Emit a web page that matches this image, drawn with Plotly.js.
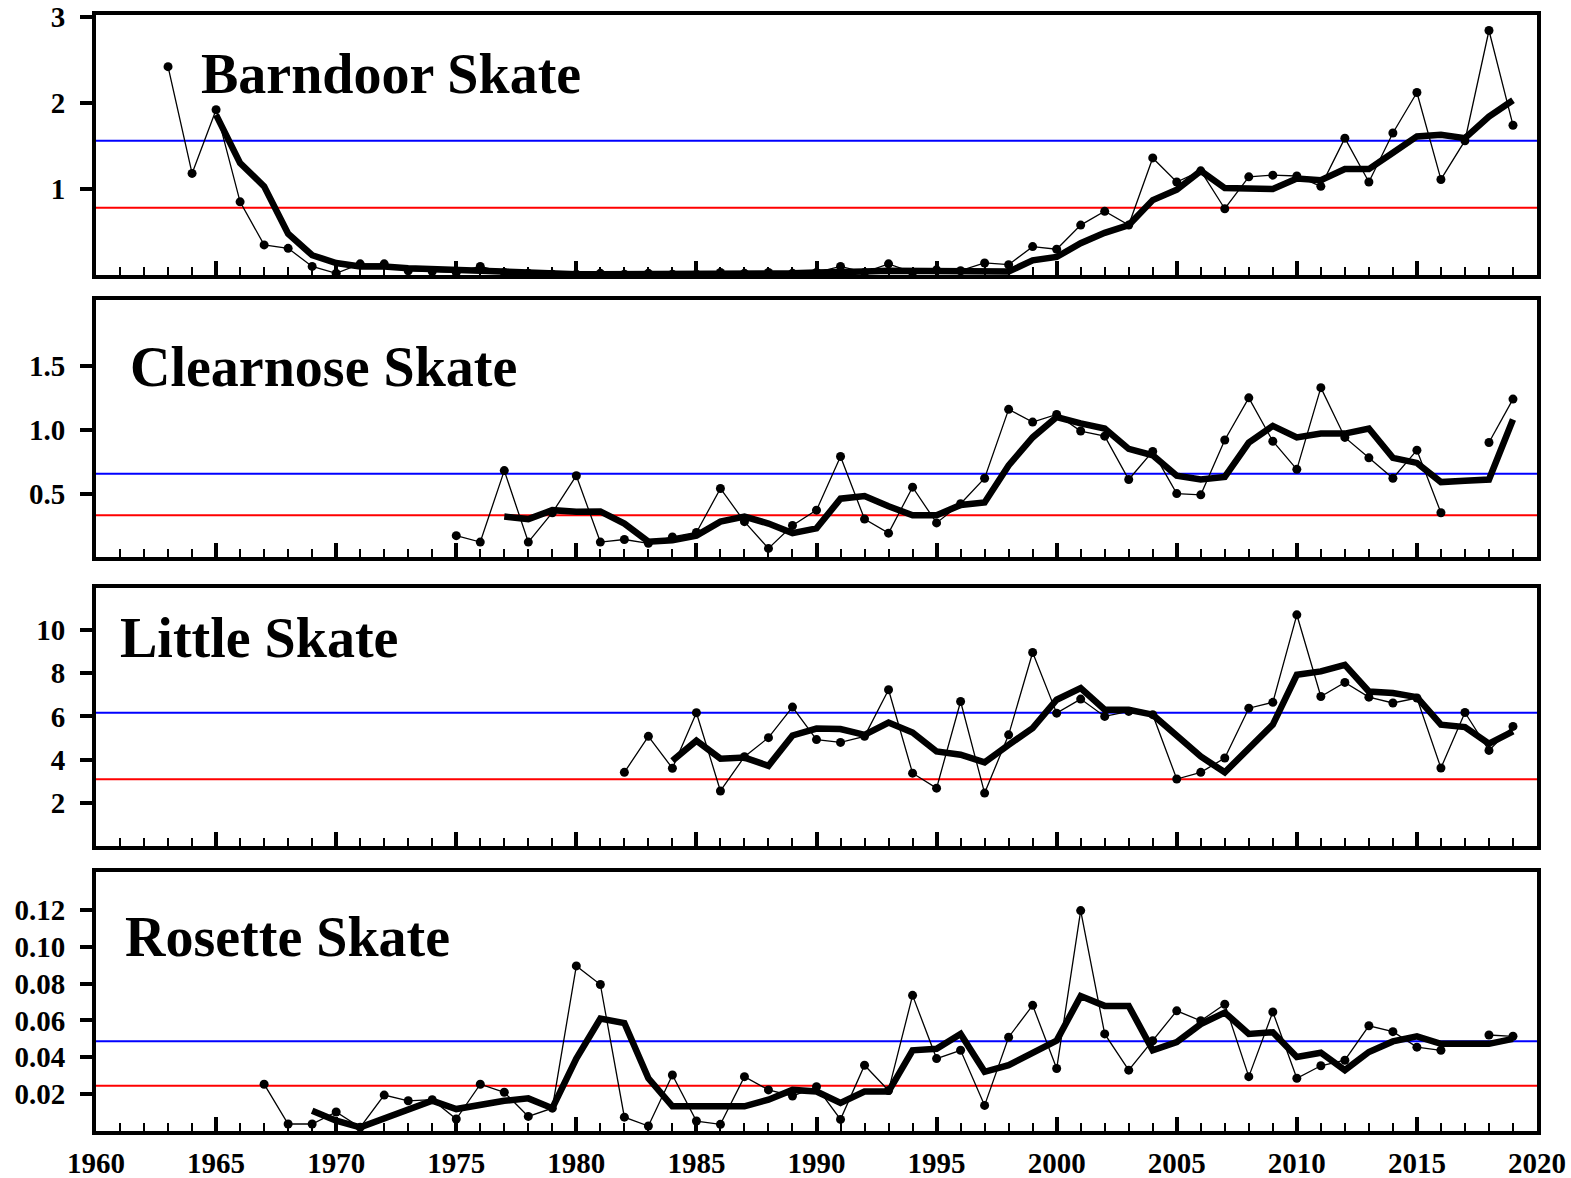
<!DOCTYPE html>
<html>
<head>
<meta charset="utf-8">
<script src="https://cdn.plot.ly/plotly-3.0.1.min.js"></script>
<style>
  html, body { margin: 0; padding: 0; background: #ffffff; }
  #chart { width: 1571px; height: 1178px; }
</style>
</head>
<body>
<div id="chart"></div>
<script>
// ---------------- DATA ----------------
const panelTitles = ["Barndoor Skate", "Clearnose Skate", "Little Skate", "Rosette Skate"];
const xTickYears = [1960, 1965, 1970, 1975, 1980, 1985, 1990, 1995, 2000, 2005, 2010, 2015, 2020];

// Barndoor skate
const barndoorStart = 1963;
const barndoorAnnual = [2.42, 1.18, 1.92, 0.85, 0.35, 0.31, 0.10, 0.02, 0.13, 0.13,
  0.05, 0.04, 0.03, 0.10, 0.03, 0.02, 0.01, 0.01, 0.02, 0.01,
  0.02, 0.01, 0.01, 0.03, 0.02, 0.03, 0.02, 0.03, 0.10, 0.03,
  0.13, 0.03, 0.06, 0.05, 0.14, 0.12, 0.33, 0.30, 0.58, 0.74,
  0.58, 1.36, 1.08, 1.21, 0.77, 1.14, 1.16, 1.15, 1.03, 1.59,
  1.08, 1.65, 2.12, 1.11, 1.56, 2.84, 1.74];
const barndoorAvgStart = 1965;
const barndoorAvg = [1.86, 1.30, 1.03, 0.48, 0.23, 0.14, 0.10, 0.10, 0.08, 0.07,
  0.05, 0.05, 0.04, 0.03, 0.02, 0.01, 0.01, 0.01, 0.01, 0.01,
  0.02, 0.02, 0.02, 0.02, 0.02, 0.03, 0.03, 0.04, 0.05, 0.05,
  0.05, 0.05, 0.04, 0.04, 0.17, 0.21, 0.37, 0.49, 0.58, 0.87,
  0.99, 1.21, 1.01, 1.01, 1.00, 1.12, 1.10, 1.23, 1.23, 1.42,
  1.61, 1.63, 1.59, 1.84, 2.03];

// Clearnose skate (2017 not sampled)
const clearnoseStart = 1975;
const clearnoseAnnual = [0.17, 0.12, 0.68, 0.12, 0.35, 0.64, 0.12, 0.14, 0.11, 0.16,
  0.195, 0.54, 0.28, 0.07, 0.25, 0.37, 0.79, 0.30, 0.19, 0.55,
  0.27, 0.42, 0.62, 1.16, 1.06, 1.12, 0.99, 0.95, 0.61, 0.83,
  0.50, 0.49, 0.92, 1.25, 0.91, 0.69, 1.33, 0.94, 0.78, 0.62,
  0.84, 0.35, null, 0.90, 1.24];
const clearnoseAvgStart = 1977;
const clearnoseAvg = [0.32, 0.30, 0.37, 0.357, 0.36, 0.265, 0.123, 0.135, 0.17, 0.28,
  0.32, 0.265, 0.19, 0.227, 0.46, 0.48, 0.40, 0.33, 0.33, 0.41,
  0.43, 0.72, 0.94, 1.10, 1.05, 1.01, 0.85, 0.80, 0.64, 0.61,
  0.63, 0.90, 1.03, 0.94, 0.97, 0.97, 1.01, 0.78, 0.74, 0.59,
  0.60, 0.61, 1.08];

// Little skate
const littleStart = 1982;
const littleAnnual = [3.42, 5.08, 3.61, 6.17, 2.56, 4.14, 5.02, 6.43, 4.93, 4.8,
  5.08, 7.23, 3.38, 2.69, 6.69, 2.46, 5.15, 8.95, 6.15, 6.8,
  6.0, 6.23, 6.08, 3.11, 3.42, 4.08, 6.38, 6.65, 10.69, 6.92,
  7.57, 6.89, 6.62, 6.85, 3.62, 6.18, 4.43, 5.54];
const littleAvgStart = 1984;
const littleAvg = [3.95, 4.88, 4.05, 4.1, 3.72, 5.12, 5.44, 5.42, 5.15, 5.72,
  5.26, 4.38, 4.23, 3.88, 4.69, 5.46, 6.77, 7.31, 6.31, 6.31,
  6.08, 5.08, 4.15, 3.42, 4.54, 5.62, 7.92, 8.08, 8.38, 7.15,
  7.08, 6.89, 5.62, 5.51, 4.74, 5.31];

// Rosette skate (2017 not sampled)
const rosetteStart = 1967;
const rosetteAnnual = [0.0254, 0.0038, 0.0038, 0.0103, 0.002, 0.0195, 0.0164, 0.017, 0.0065, 0.0254,
  0.021, 0.0079, 0.0124, 0.0896, 0.0795, 0.0075, 0.0027, 0.0304, 0.0054, 0.0036,
  0.0295, 0.0223, 0.019, 0.024, 0.0063, 0.0357, 0.022, 0.0736, 0.0393, 0.0438,
  0.0139, 0.0509, 0.0682, 0.0339, 0.1196, 0.0527, 0.033, 0.049, 0.0652, 0.0598,
  0.0688, 0.0295, 0.0646, 0.0286, 0.0354, 0.0384, 0.0571, 0.0539, 0.0455, 0.0438,
  null, 0.0521, 0.0514];
const rosetteAvgStart = 1969;
const rosetteAvg = [0.011, 0.0056, 0.002, 0.0065, 0.0119, 0.0164, 0.0119, 0.0146, 0.0164, 0.0177,
  0.0124, 0.0393, 0.061, 0.0586, 0.0286, 0.0134, 0.0134, 0.0134, 0.0134, 0.017,
  0.0223, 0.0214, 0.0152, 0.0214, 0.0214, 0.0438, 0.0446, 0.0527, 0.0321, 0.0357,
  0.0429, 0.0491, 0.0732, 0.0679, 0.0679, 0.0438, 0.0482, 0.058, 0.0643, 0.0527,
  0.0536, 0.0402, 0.0425, 0.033, 0.0429, 0.0486, 0.0514, 0.0473, 0.0473, 0.0473,
  0.05];

// reference levels per panel
const blueLevels = [1.56, 0.656, 6.17, 0.0487];
const redLevels = [0.78, 0.33, 3.1, 0.0245];

// y-axis ticks per panel
const yTickVals = [[1, 2, 3], [0.5, 1.0, 1.5], [2, 4, 6, 8, 10], [0.02, 0.04, 0.06, 0.08, 0.10, 0.12]];
const yTickText = [["1", "2", "3"], ["0.5", "1.0", "1.5"], ["2", "4", "6", "8", "10"],
  ["0.02", "0.04", "0.06", "0.08", "0.10", "0.12"]];
const yRanges = [[0, 3.02], [0, 2.02], [0, 11.95], [0, 0.1405]];

// ---------------- BUILD ----------------
function yearsFrom(start, arr) { return arr.map((_, i) => start + i); }

const series = [
  [barndoorStart, barndoorAnnual, barndoorAvgStart, barndoorAvg],
  [clearnoseStart, clearnoseAnnual, clearnoseAvgStart, clearnoseAvg],
  [littleStart, littleAnnual, littleAvgStart, littleAvg],
  [rosetteStart, rosetteAnnual, rosetteAvgStart, rosetteAvg]
];

const serif = "'Liberation Serif', 'Times New Roman', serif";
const traces = [];
series.forEach((s, i) => {
  const n = i + 1;
  traces.push({
    x: yearsFrom(s[2], s[3]), y: s[3], type: 'scatter', mode: 'lines',
    xaxis: 'x' + (n === 1 ? '' : n), yaxis: 'y' + (n === 1 ? '' : n),
    line: { color: '#000', width: 6.5 }, hoverinfo: 'skip', showlegend: false
  });
  traces.push({
    x: yearsFrom(s[0], s[1]), y: s[1], type: 'scatter', mode: 'lines+markers',
    connectgaps: false,
    xaxis: 'x' + (n === 1 ? '' : n), yaxis: 'y' + (n === 1 ? '' : n),
    line: { color: '#000', width: 1.3 }, marker: { color: '#000', size: 9 },
    hoverinfo: 'skip', showlegend: false
  });
});

const domains = [[0.767, 1.0], [0.514, 0.745], [0.255, 0.487], [0.0, 0.232]];
const titleX = [0.0715, 0.0222, 0.0153, 0.0187];
const titleY = [0.947, 0.6846, 0.4418, 0.1738];

const layout = {
  width: 1571, height: 1178,
  margin: { l: 96, r: 34, t: 15, b: 47 },
  paper_bgcolor: '#fff', plot_bgcolor: '#fff',
  showlegend: false,
  shapes: [], annotations: []
};

for (let i = 0; i < 4; i++) {
  const n = i + 1;
  const sfx = n === 1 ? '' : String(n);
  layout['xaxis' + sfx] = {
    domain: [0, 1], anchor: 'y' + sfx, range: [1960, 2020],
    showgrid: false, zeroline: false,
    showline: true, linecolor: '#000', linewidth: 4, mirror: true,
    ticks: 'inside', ticklen: 14, tickwidth: 4, tickcolor: '#000',
    tickmode: 'array', tickvals: xTickYears, ticktext: xTickYears.map(String),
    showticklabels: n === 4,
    ticklabelstandoff: 3,
    tickfont: { family: serif, size: 29, color: '#000', weight: 'bold' },
    minor: { dtick: 1, tick0: 1960, ticks: 'inside', ticklen: 8, tickwidth: 2, tickcolor: '#000', showgrid: false }
  };
  layout['yaxis' + sfx] = {
    domain: domains[i], anchor: 'x' + sfx, range: yRanges[i],
    showgrid: false, zeroline: false,
    showline: true, linecolor: '#000', linewidth: 4, mirror: true,
    ticks: 'outside', ticklen: 12, tickwidth: 4, tickcolor: '#000',
    tickmode: 'array', tickvals: yTickVals[i], ticktext: yTickText[i],
    ticklabelstandoff: 9,
    tickfont: { family: serif, size: 29, color: '#000', weight: 'bold' }
  };
  layout.shapes.push({
    type: 'line', xref: 'x' + sfx + ' domain', x0: 0, x1: 1, yref: 'y' + sfx,
    y0: blueLevels[i], y1: blueLevels[i], line: { color: '#0000ff', width: 2 }, layer: 'below'
  });
  layout.shapes.push({
    type: 'line', xref: 'x' + sfx + ' domain', x0: 0, x1: 1, yref: 'y' + sfx,
    y0: redLevels[i], y1: redLevels[i], line: { color: '#ff0000', width: 2 }, layer: 'below'
  });
  layout.annotations.push({
    text: panelTitles[i], xref: 'paper', yref: 'paper', x: titleX[i], y: titleY[i],
    xanchor: 'left', yanchor: 'middle', showarrow: false,
    font: { family: serif, size: 56, color: '#000', weight: 'bold' }
  });
}

Plotly.newPlot('chart', traces, layout, { staticPlot: true, displayModeBar: false });
</script>
</body>
</html>
